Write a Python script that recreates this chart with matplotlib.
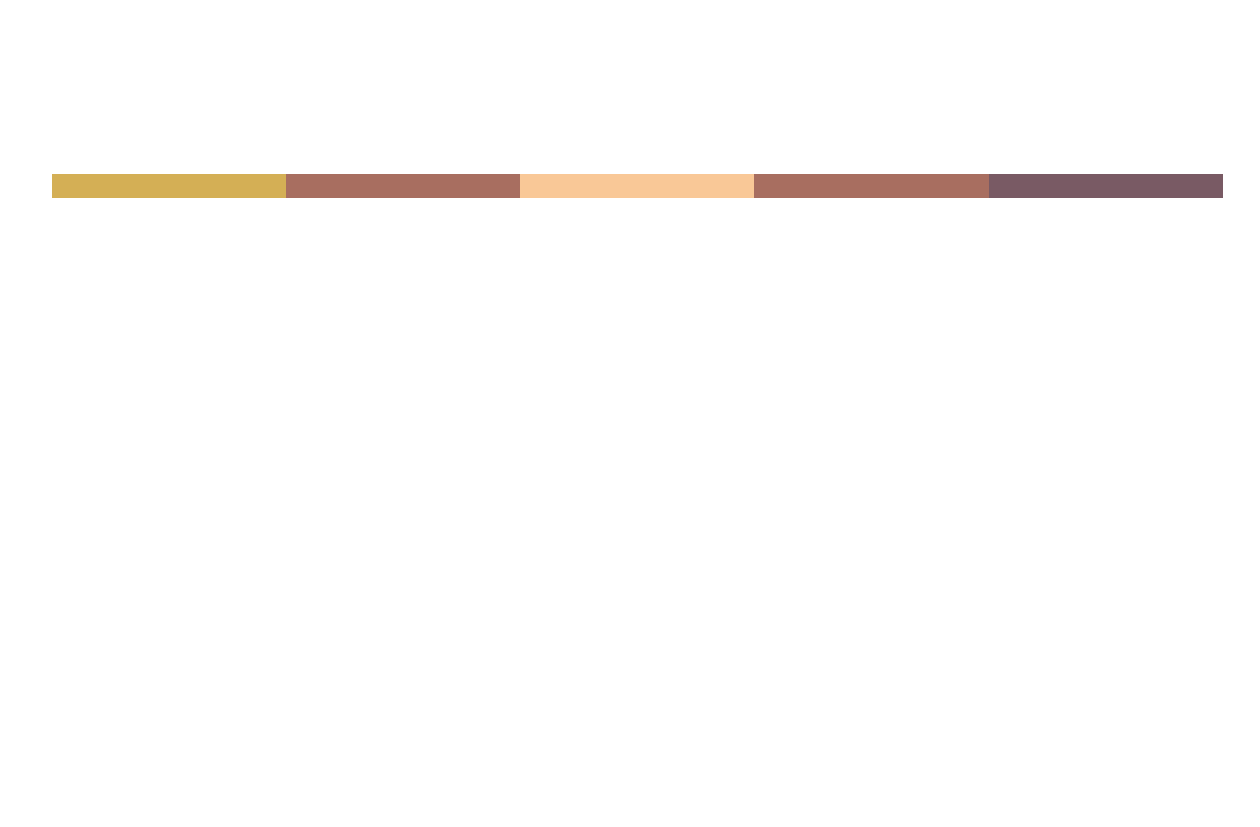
import numpy as np
import matplotlib
matplotlib.use("Agg")
import matplotlib.pyplot as plt

# one stacked horizontal bar, five equal parts
segments = ["A", "B", "C", "D", "E"]
values = [1, 1, 1, 1, 1]
colors = ["#d4af55", "#a86e60", "#f9c897", "#a86e60", "#795a64"]

fig = plt.figure(figsize=(12.6, 8.28), dpi=100)
fig.patch.set_facecolor("white")

# axes placed exactly on the bar strip
ax = fig.add_axes([51.7 / 1260, 1 - 198.5 / 828, (1223 - 51.7) / 1260, 23.5 / 828])

lefts = np.concatenate([[0], np.cumsum(values)[:-1]])
ax.barh(0, values, left=lefts, height=1, color=colors, edgecolor="none")

ax.set_xlim(0, sum(values))
ax.set_ylim(-0.5, 0.5)
ax.axis("off")

fig.savefig("out.png", dpi=100, facecolor="white")
